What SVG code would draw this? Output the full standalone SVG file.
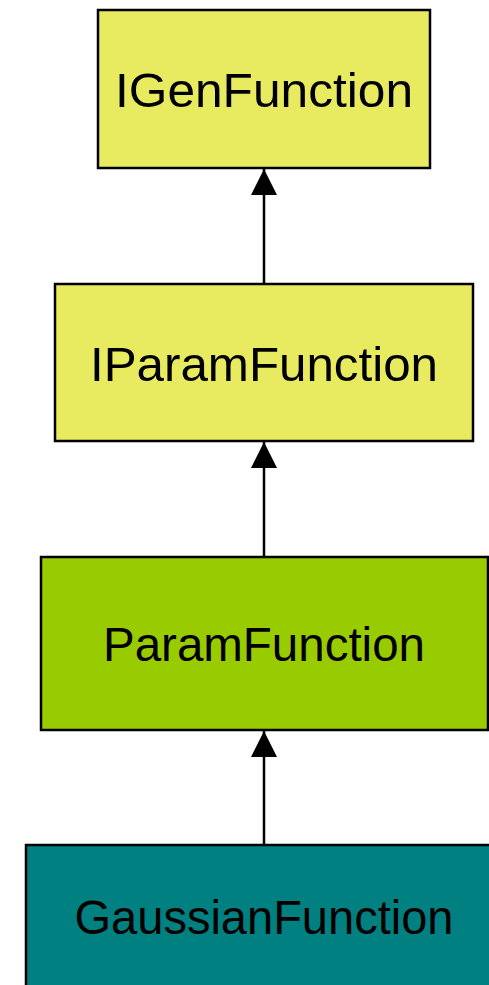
<svg xmlns="http://www.w3.org/2000/svg" width="489" height="985" viewBox="0 0 489 985">
  <style>
    .box { stroke: #000; stroke-width: 2.5; }
    .label { font-family: "Liberation Sans", "DejaVu Sans", sans-serif; font-size: 48px; fill: #000; text-anchor: middle; }
    .edge { stroke: #000; stroke-width: 2.5; fill: none; marker-end: url(#head); }
  </style>
  <defs>
    <marker id="head" viewBox="0 0 26 26" refX="26" refY="13" markerWidth="26" markerHeight="26" markerUnits="userSpaceOnUse" orient="auto">
      <path d="M0,0 L26,13 L0,26 Z" fill="#000"/>
    </marker>
  </defs>
  <rect width="489" height="985" fill="#fff"/>

  <g id="IGenFunction">
    <rect class="box" x="98" y="10" width="332" height="158" fill="#E8EA60"/>
    <text class="label" x="264" y="107" textLength="298" lengthAdjust="spacingAndGlyphs">IGenFunction</text>
  </g>
  <g id="IParamFunction">
    <rect class="box" x="55" y="284" width="418" height="157" fill="#E8EA60"/>
    <text class="label" x="264" y="381" textLength="348" lengthAdjust="spacingAndGlyphs">IParamFunction</text>
  </g>
  <g id="ParamFunction">
    <rect class="box" x="41" y="557" width="447" height="173" fill="#99CC00"/>
    <text class="label" x="264" y="661" textLength="322" lengthAdjust="spacingAndGlyphs">ParamFunction</text>
  </g>
  <g id="GaussianFunction">
    <rect class="box" x="26" y="845" width="475" height="150" fill="#008080"/>
    <text class="label" x="264" y="934" textLength="379" lengthAdjust="spacingAndGlyphs">GaussianFunction</text>
  </g>

  <g id="connectors">
    <line class="edge" x1="264" y1="284" x2="264" y2="169"/>
    <line class="edge" x1="264" y1="557" x2="264" y2="442"/>
    <line class="edge" x1="264" y1="845" x2="264" y2="731"/>
  </g>
</svg>
